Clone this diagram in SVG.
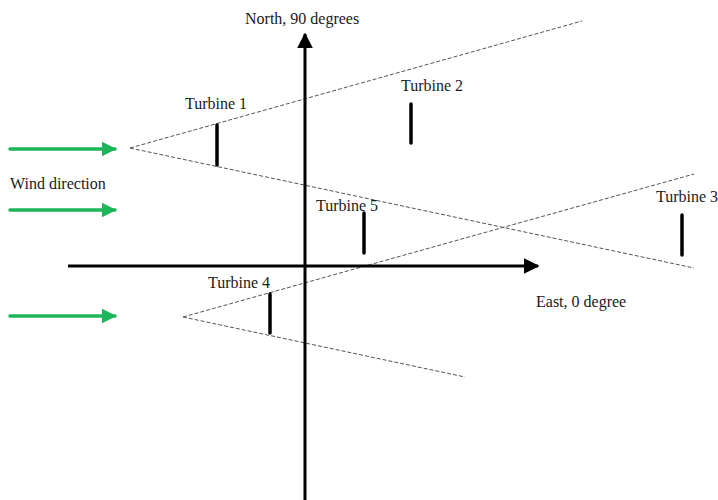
<svg xmlns="http://www.w3.org/2000/svg" width="718" height="500" viewBox="0 0 718 500">
<style>
text{font-family:"Liberation Serif","Times New Roman",serif;font-size:16px;fill:#1a1a1a}
.dash{stroke:#555;stroke-width:1;stroke-dasharray:4 2;fill:none}
.axis{stroke:#000;stroke-width:3;fill:none}
.wind{stroke:#1db559;stroke-width:3.5;stroke-linecap:round;fill:none}
.bar{stroke:#000;stroke-width:3.5;stroke-linecap:round}
</style>
<defs>
<marker id="ah" viewBox="0 0 10 10" refX="9" refY="5" markerWidth="16" markerHeight="16" markerUnits="userSpaceOnUse" orient="auto"><path d="M0,0 L10,5 L0,10 z" fill="#000"/></marker>
<marker id="gh" viewBox="0 0 10 10" refX="9" refY="5" markerWidth="15" markerHeight="15" markerUnits="userSpaceOnUse" orient="auto"><path d="M0,0 L10,5 L0,10 z" fill="#1db559"/></marker>
</defs>
<rect width="718" height="500" fill="#fff"/>
<g id="connectors">
<line class="dash" x1="130" y1="148" x2="582" y2="21"/>
<line class="dash" x1="130" y1="148" x2="694" y2="268"/>
<line class="dash" x1="183" y1="317" x2="694" y2="174"/>
<line class="dash" x1="183" y1="317" x2="465" y2="377"/>
<line class="axis" x1="305" y1="500" x2="305" y2="34" marker-end="url(#ah)"/>
<line class="axis" x1="68" y1="266" x2="538" y2="266" marker-end="url(#ah)"/>
<line class="wind" x1="10" y1="149" x2="115" y2="149" marker-end="url(#gh)"/>
<line class="wind" x1="10" y1="210" x2="115" y2="210" marker-end="url(#gh)"/>
<line class="wind" x1="10" y1="316" x2="115" y2="316" marker-end="url(#gh)"/>
</g>
<g id="north"><text x="245" y="24">North, 90 degrees</text></g>
<g id="east"><text x="536" y="307">East, 0 degree</text></g>
<g id="wind"><text x="10" y="189">Wind direction</text></g>
<g id="turbine1"><text x="185" y="109">Turbine 1</text><line class="bar" x1="217" y1="125" x2="217" y2="165"/></g>
<g id="turbine2"><text x="401" y="91">Turbine 2</text><line class="bar" x1="411" y1="104" x2="411" y2="143"/></g>
<g id="turbine3"><text x="656" y="202">Turbine 3</text><line class="bar" x1="682" y1="215" x2="682" y2="255"/></g>
<g id="turbine4"><text x="208" y="288">Turbine 4</text><line class="bar" x1="270" y1="294" x2="270" y2="333"/></g>
<g id="turbine5"><text x="316" y="211">Turbine 5</text><line class="bar" x1="364" y1="213" x2="364" y2="253"/></g>
</svg>
